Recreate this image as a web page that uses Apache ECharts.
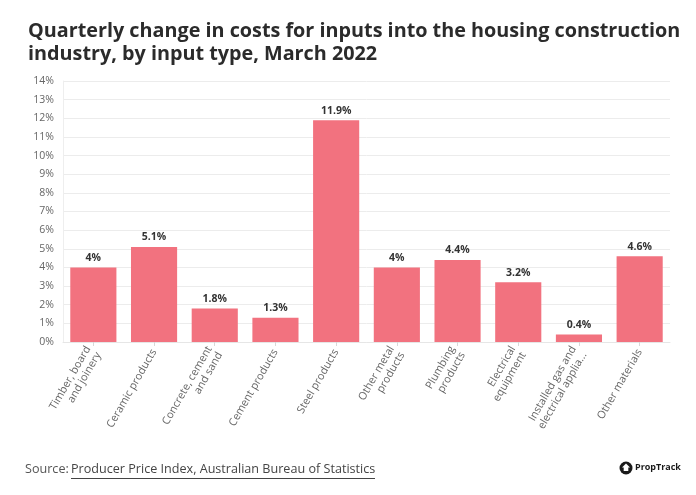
<!DOCTYPE html>
<html>
<head>
<meta charset="utf-8">
<script src="https://cdn.jsdelivr.net/npm/echarts@6/dist/echarts.min.js"></script>
<style>
html,body{margin:0;padding:0;background:#fff;}
#c{width:696px;height:495px;}
</style>
</head>
<body>
<div id="c"></div>
<script>
const categories = [
  "Timber, board\nand joinery",
  "Ceramic products",
  "Concrete, cement\nand sand",
  "Cement products",
  "Steel products",
  "Other metal\nproducts",
  "Plumbing\nproducts",
  "Electrical\nequipment",
  "Installed gas and\nelectrical applia...",
  "Other materials"
];
const values = [4, 5.1, 1.8, 1.3, 11.9, 4, 4.4, 3.2, 0.4, 4.6];
const yTicks = [0,1,2,3,4,5,6,7,8,9,10,11,12,13,14];

const chart = echarts.init(document.getElementById('c'), null, {renderer:'canvas'});
const FONT = "'Open Sans', 'Noto Sans', sans-serif";
chart.setOption({
  backgroundColor: '#ffffff',
  animation: false,
  title: {
    text: "Quarterly change in costs for inputs into the housing construction\nindustry, by input type, March 2022",
    left: 23, top: 15,
    textStyle: { fontFamily: FONT, fontSize: 19.8, fontWeight: 'bold', color: '#2b2b2b', lineHeight: 23 }
  },
  grid: { left: 63, right: 26, top: 81, bottom: 153 },
  xAxis: {
    type: 'category',
    data: categories,
    axisLine: { show: true, lineStyle: { color: '#e6e6e6' } },
    axisTick: { show: true, alignWithLabel: true, length: 4, lineStyle: { color: '#d8d8d8' } },
    axisLabel: {
      interval: 0, rotate: 60, margin: 8,
      fontFamily: FONT, fontSize: 10.8, color: '#666', lineHeight: 12, align: 'right'
    }
  },
  yAxis: {
    type: 'value', min: yTicks[0], max: yTicks[yTicks.length-1], interval: 1,
    axisLine: { show: true, lineStyle: { color: '#eeeeee' } },
    axisTick: { show: false },
    splitLine: { lineStyle: { color: '#ececec' } },
    axisLabel: { formatter: '{value}%', fontFamily: FONT, fontSize: 10.5, color: '#666', margin: 9 }
  },
  series: [{
    type: 'bar',
    data: values,
    barWidth: '76%',
    itemStyle: { color: '#f2727f' },
    label: {
      show: true, position: 'top', formatter: '{c}%', distance: 4,
      fontFamily: FONT, fontSize: 10.5, fontWeight: 'bold', color: '#333'
    }
  }],
  graphic: [
    { type: 'text', left: 25, top: 463,
      style: { text: 'Source: ', font: "12.6px 'Open Sans', sans-serif", fill: '#555' } },
    { type: 'text', left: 71, top: 463,
      style: { text: 'Producer Price Index, Australian Bureau of Statistics', font: "12.6px 'Open Sans', sans-serif", fill: '#444' } },
    { type: 'line', shape: { x1: 71, y1: 478.5, x2: 375, y2: 478.5 }, style: { stroke: '#444', lineWidth: 1 } },
    { type: 'circle', shape: { cx: 626, cy: 468, r: 6.5 }, style: { fill: '#1a1a1a' } },
    { type: 'polygon', shape: { points: [[626,463.5],[630,467.5],[628.3,467.5],[628.3,471],[623.7,471],[623.7,467.5],[622,467.5]] }, style: { fill: '#fff' } },
    { type: 'text', left: 635, top: 463,
      style: { text: 'PropTrack', font: "bold 9px 'Open Sans', sans-serif", fill: '#1a1a1a' } }
  ]
});
</script>
</body>
</html>
